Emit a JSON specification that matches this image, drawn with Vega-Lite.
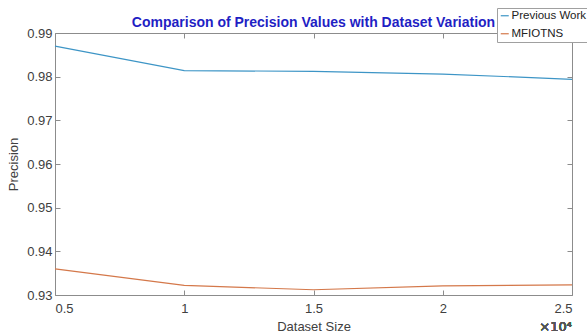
{
  "$schema": "https://vega.github.io/schema/vega-lite/v6.json",
  "width": 517,
  "height": 262,
  "autosize": {"type": "none"},
  "padding": {"left": 55, "top": 33, "right": 15, "bottom": 39},
  "background": "white",
  "config": {
    "font": "Liberation Sans",
    "view": {"stroke": null},
    "axis": {
      "grid": false,
      "domainColor": "#8c8c8c",
      "tickColor": "#8c8c8c",
      "labelColor": "#404040",
      "titleColor": "#404040",
      "labelFont": "Liberation Sans",
      "titleFont": "Liberation Sans",
      "labelFontSize": 13,
      "titleFontSize": 13,
      "titleFontWeight": "normal"
    }
  },
  "title": {
    "text": "Comparison of Precision Values with Dataset Variation",
    "color": "#1f1fc4",
    "fontSize": 14,
    "fontWeight": "bold",
    "font": "Liberation Sans",
    "anchor": "middle",
    "offset": -22
  },
  "data": {
    "values": [
      {"size": 5000, "precision": 0.987, "series": "Previous Work"},
      {"size": 10000, "precision": 0.9814, "series": "Previous Work"},
      {"size": 15000, "precision": 0.9812, "series": "Previous Work"},
      {"size": 20000, "precision": 0.9806, "series": "Previous Work"},
      {"size": 25000, "precision": 0.9794, "series": "Previous Work"},
      {"size": 5000, "precision": 0.936, "series": "MFIOTNS"},
      {"size": 10000, "precision": 0.9322, "series": "MFIOTNS"},
      {"size": 15000, "precision": 0.9312, "series": "MFIOTNS"},
      {"size": 20000, "precision": 0.9321, "series": "MFIOTNS"},
      {"size": 25000, "precision": 0.9323, "series": "MFIOTNS"}
    ]
  },
  "layer": [
    {
      "mark": {"type": "line", "strokeWidth": 1.2},
      "encoding": {
        "x": {
          "field": "size", "type": "quantitative",
          "scale": {"domain": [5000, 25000], "nice": false, "zero": false},
          "axis": {
            "title": "Dataset Size",
            "values": [5000, 10000, 15000, 20000, 25000],
            "labelExpr": "format(datum.value / 10000, '~g')",
            "tickSize": -5,
            "labelPadding": 12,
            "titlePadding": 5
          }
        },
        "y": {
          "field": "precision", "type": "quantitative",
          "scale": {"domain": [0.93, 0.99], "nice": false, "zero": false},
          "axis": {
            "title": "Precision",
            "values": [0.93, 0.94, 0.95, 0.96, 0.97, 0.98, 0.99],
            "format": ".2f",
            "tickSize": -5,
            "labelPadding": 8,
            "titlePadding": 6
          }
        },
        "color": {
          "field": "series", "type": "nominal",
          "scale": {"domain": ["Previous Work", "MFIOTNS"], "range": ["#3d95c6", "#d4784a"]},
          "legend": {
            "title": null,
            "orient": "none",
            "legendX": 442,
            "legendY": -25,
            "symbolType": "stroke",
            "symbolSize": 64,
            "symbolStrokeWidth": 1.2,
            "labelFontSize": 11.5,
            "labelColor": "#222222",
            "labelFont": "Liberation Sans",
            "strokeColor": "#a0a0a0",
            "fillColor": "white",
            "padding": 2,
            "rowPadding": 5,
            "labelOffset": 1
          }
        }
      }
    },
    {
      "mark": {"type": "rule", "opacity": 0},
      "encoding": {
        "x": {"datum": 5000, "type": "quantitative", "axis": {"orient": "top", "labels": false, "title": null, "values": [5000, 10000, 15000, 20000, 25000], "tickSize": -5}},
        "y": {"datum": 0.93, "type": "quantitative", "axis": {"orient": "right", "labels": false, "title": null, "values": [0.93, 0.94, 0.95, 0.96, 0.97, 0.98, 0.99], "tickSize": -5}}
      }
    },
    {
      "mark": {"type": "text", "align": "right", "baseline": "middle", "dy": 32, "fontSize": 13, "fontWeight": "normal", "color": "#555555", "font": "DejaVu Sans"},
      "encoding": {
        "x": {"datum": 25000, "type": "quantitative", "axis": null},
        "y": {"datum": 0.93, "type": "quantitative", "axis": null},
        "text": {"value": "×10⁴"}
      }
    }
  ],
  "resolve": {"axis": {"x": "independent", "y": "independent"}}
}
